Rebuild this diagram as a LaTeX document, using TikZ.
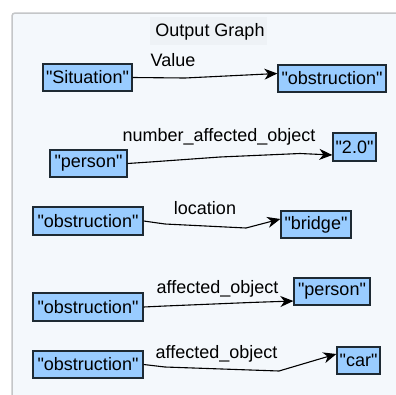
\documentclass[tikz,border=0pt]{standalone}
\usepackage{fontspec}
\setmainfont{Liberation Sans}[Ligatures=TeXOff]
\usetikzlibrary{arrows.meta}
\definecolor{panelbg}{HTML}{F4F8FC}
\definecolor{titlebg}{HTML}{EEF2F6}
\definecolor{panelline}{HTML}{C4C6C8}
\definecolor{nodefill}{HTML}{99CCFF}
\definecolor{nodeline}{HTML}{1E2A33}
\tikzset{
  gnode/.style={draw=nodeline, fill=nodefill, line width=1.3pt, rectangle,
    inner sep=0pt, minimum height=27pt, font=\fontsize{18}{20}\selectfont},
  glabel/.style={inner sep=0pt, font=\fontsize{18}{20}\selectfont},
  gedge/.style={draw=black, line width=1.1pt,
    -{Stealth[length=13pt,width=11pt,inset=4pt]}},
}
\begin{document}
\begin{tikzpicture}[x=1pt,y=-1pt]
  \useasboundingbox (0,0) rectangle (396,394);
  % panel
  \fill[white] (0,0) rectangle (396,394);
  \filldraw[fill=panelbg, draw=panelline, line width=1.5pt, rounded corners=3pt]
    (12,13) -- (12,400) -- (402,400) -- (402,13) -- cycle;
  \fill[titlebg] (150,17) rectangle (267,45);
  \node[glabel] (title) at (210,32) {Output Graph};

  % nodes
  \node[gnode, minimum width=89pt]  (sit)    at (87.5,77.5)  {"Situation"};
  \node[gnode, minimum width=108pt] (obs1)   at (332,78.5)   {"obstruction"};
  \node[gnode, minimum width=77pt]  (per1)   at (88.5,163.5) {"person"};
  \node[gnode, minimum width=43pt, minimum height=28pt] (two) at (354.5,147) {"2.0"};
  \node[gnode, minimum width=110pt, minimum height=28pt] (obs3) at (88,221) {"obstruction"};
  \node[gnode, minimum width=70pt]  (bridge) at (316,224.5)  {"bridge"};
  \node[gnode, minimum width=110pt, minimum height=28pt] (obs4) at (88,307) {"obstruction"};
  \node[gnode, minimum width=76pt]  (per2)   at (332,291.5)  {"person"};
  \node[gnode, minimum width=110pt] (obs5)   at (88,364.5)   {"obstruction"};
  \node[gnode, minimum width=43pt]  (car)    at (358.5,360.5) {"car"};

  % connectors
  \draw[gedge] (sit.east) -- (185,78) -- (226,76) -- ([yshift=5pt]obs1.west);
  \draw[gedge] (per1.east) -- (150,162) -- (220,157) -- (300,153.5) -- ([yshift=-8pt]two.west);
  \draw[gedge] (obs3.east) -- (165,224) -- (246,228) -- ([yshift=5.5pt]bridge.west);
  \draw[gedge] (obs4.east) -- (165,306) -- (250,302.5) -- ([yshift=-9.5pt]per2.west);
  \draw[gedge] (obs5.east) -- (165,367) -- (279,371) -- ([yshift=6.5pt]car.west);

  % connector labels
  \node[glabel] (l1) at (173,60)  {Value};
  \node[glabel] (l2) at (219,137) {number\_affected\_object};
  \node[glabel] (l3) at (205,208) {location};
  \node[glabel] (l4) at (217.5,289) {affected\_object};
  \node[glabel] (l5) at (216.5,354) {affected\_object};
\end{tikzpicture}
\end{document}
